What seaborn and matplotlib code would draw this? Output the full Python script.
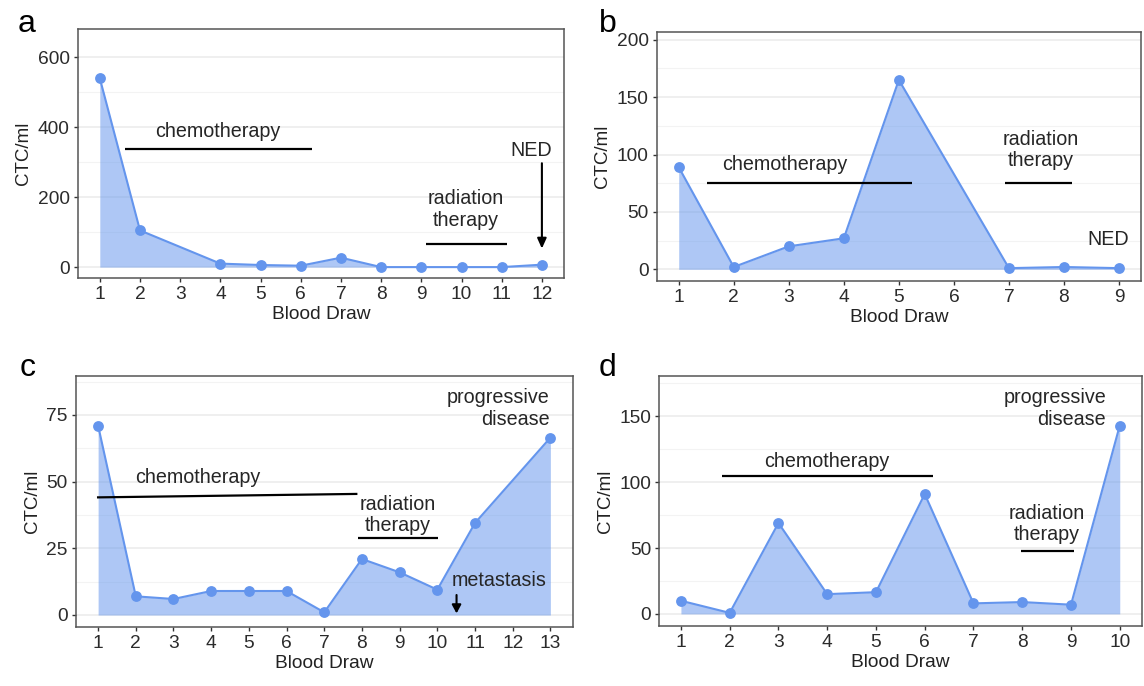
import matplotlib
matplotlib.use("Agg")
import matplotlib.pyplot as plt
import seaborn as sns
import numpy as np
import pandas as pd

# ---------------- data ----------------
a_draw = [1, 2, 4, 5, 6, 7, 8, 9, 10, 11, 12]
a_ctc = [540, 105, 10, 6, 4, 27, 0, 0, 0, 0, 7]
a_ticks = list(range(1, 13))

b_draw = [1, 2, 3, 4, 5, 7, 8, 9]
b_ctc = [89, 2, 20, 27, 165, 1, 2, 1]
b_ticks = list(range(1, 10))

c_draw = [1, 2, 3, 4, 5, 6, 7, 8, 9, 10, 11, 13]
c_ctc = [71, 7, 6, 9, 9, 9, 1, 21, 16, 9.5, 34.5, 66.5]
c_ticks = list(range(1, 14))

d_draw = [1, 2, 3, 4, 5, 6, 7, 8, 9, 10]
d_ctc = [10, 0.8, 69, 15, 16.5, 91, 8, 9, 7, 143]
d_ticks = list(range(1, 11))

panel_letters = ["a", "b", "c", "d"]

# ---------------- style ----------------
sns.set_theme(style="ticks")
plt.rcParams['font.family'] = ['Liberation Sans', 'DejaVu Sans']

BLUE = "#6495ED"
FILL_ALPHA = 0.52
TXT = 14.2
TICK_FS = 13.8

fig = plt.figure(figsize=(11.44, 6.86), dpi=100, facecolor="white")

def px_axes(left, top, right, bottom):
    W, H = 1144, 686
    return fig.add_axes([left / W, 1 - bottom / H, (right - left) / W, (bottom - top) / H])

axes = [
    px_axes(77.7, 29.3, 564, 278.3),
    px_axes(656.7, 31.7, 1141, 281),
    px_axes(75.5, 376.3, 573, 627),
    px_axes(659, 375.7, 1141.7, 626.3),
]

datasets = [
    (a_draw, a_ctc, a_ticks, (0.45, 12.55), (-32, 680), 200),
    (b_draw, b_ctc, b_ticks, (0.6, 9.4), (-10.2, 207), 50),
    (c_draw, c_ctc, c_ticks, (0.4, 13.6), (-4.5, 89.5), 25),
    (d_draw, d_ctc, d_ticks, (0.55, 10.45), (-9.4, 180.8), 50),
]

for ax, (xs, ys, ticks, xl, yl, step) in zip(axes, datasets):
    df = pd.DataFrame({"Blood Draw": xs, "CTC/ml": ys})
    ax.fill_between(df["Blood Draw"], df["CTC/ml"], 0, color=BLUE,
                    alpha=FILL_ALPHA, linewidth=0, zorder=2)
    sns.lineplot(data=df, x="Blood Draw", y="CTC/ml", ax=ax, color=BLUE,
                 linewidth=1.5, marker="o", markersize=7.8,
                 markeredgewidth=0, zorder=3)
    ax.set_xlim(*xl)
    ax.set_ylim(*yl)
    ax.set_xticks(ticks)
    ymax_tick = int(yl[1] // step) * step
    ax.set_yticks(np.arange(0, ymax_tick + 1, step))
    ax.set_yticks(np.arange(step / 2, yl[1], step), minor=True)
    ax.grid(axis="y", which="major", color="#EBEBEB", linewidth=1.1, zorder=0)
    ax.grid(axis="y", which="minor", color="#F3F3F3", linewidth=0.8, zorder=0)
    ax.grid(axis="x", visible=False)
    ax.set_axisbelow(True)
    ax.tick_params(axis="both", which="major", length=3.2, width=1.0,
                   color="#333333", labelsize=TICK_FS, labelcolor="#2b2b2b",
                   pad=2.5)
    ax.tick_params(axis="y", which="minor", length=0)
    for sp in ax.spines.values():
        sp.set_visible(True)
        sp.set_color("#555555")
        sp.set_linewidth(1.1)
    ax.set_xlabel("Blood Draw", fontsize=13.8, color="#222222", labelpad=2)
    ax.set_ylabel("CTC/ml", fontsize=13.5, color="#222222", labelpad=4)
    ax.set_facecolor("white")

def bar(ax, x0, x1, y0, y1=None):
    if y1 is None:
        y1 = y0
    ax.plot([x0, x1], [y0, y1], color="black", linewidth=1.6, zorder=5,
            solid_capstyle="butt")

def arrow(ax, x, y0, y1, hw=0.27, hl=0.6):
    ax.annotate("", xy=(x, y1), xytext=(x, y0),
                arrowprops=dict(arrowstyle=f"-|>,head_width={hw:.2f},head_length={hl:.2f}",
                                color="black", linewidth=1.5,
                                shrinkA=0, shrinkB=0, mutation_scale=10),
                zorder=6)

# panel a
ax = axes[0]
ax.text(3.93, 387, "chemotherapy", fontsize=TXT, ha="center", va="center")
bar(ax, 1.625, 6.27, 338)
ax.text(10.1, 165, "radiation\ntherapy", fontsize=TXT, ha="center", va="center",
        linespacing=1.15)
bar(ax, 9.125, 11.12, 66)
ax.text(11.73, 333, "NED", fontsize=TXT, ha="center", va="center")
arrow(ax, 12, 297, 53)

# panel b
ax = axes[1]
ax.text(2.92, 91, "chemotherapy", fontsize=TXT, ha="center", va="center")
bar(ax, 1.51, 5.23, 75.3)
ax.text(7.58, 104, "radiation\ntherapy", fontsize=TXT, ha="center", va="center",
        linespacing=1.15)
bar(ax, 6.92, 8.14, 75.3)
ax.text(8.8, 25.6, "NED", fontsize=TXT, ha="center", va="center")

# panel c
ax = axes[2]
ax.text(3.64, 51.7, "chemotherapy", fontsize=TXT, ha="center", va="center")
bar(ax, 0.97, 7.88, 44.1, 45.4)
ax.text(8.96, 37.4, "radiation\ntherapy", fontsize=TXT, ha="center", va="center",
        linespacing=1.15)
bar(ax, 7.9, 10.03, 28.9)
ax.text(11.65, 13.0, "metastasis", fontsize=TXT, ha="center", va="center")
arrow(ax, 10.51, 7.5, 0.6, hw=0.27, hl=0.5)
ax.text(12.97, 77.4, "progressive\ndisease", fontsize=TXT, ha="right",
        va="center", multialignment="right", linespacing=1.15)

# panel d
ax = axes[3]
ax.text(3.99, 115.8, "chemotherapy", fontsize=TXT, ha="center", va="center")
bar(ax, 1.84, 6.16, 105)
ax.text(8.5, 68.5, "radiation\ntherapy", fontsize=TXT, ha="center", va="center",
        linespacing=1.15)
bar(ax, 7.97, 9.07, 47.6)
ax.text(9.72, 156, "progressive\ndisease", fontsize=TXT, ha="right",
        va="center", multialignment="right", linespacing=1.15)

# panel letters
letter_pos = [(18, 32), (599, 32), (20, 376), (599, 376)]
for lab, (px, py) in zip(panel_letters, letter_pos):
    fig.text(px / 1144, 1 - py / 686, lab, fontsize=23, ha="left",
             va="baseline", color="black")

fig.savefig("out.png", dpi=100, facecolor="white")
